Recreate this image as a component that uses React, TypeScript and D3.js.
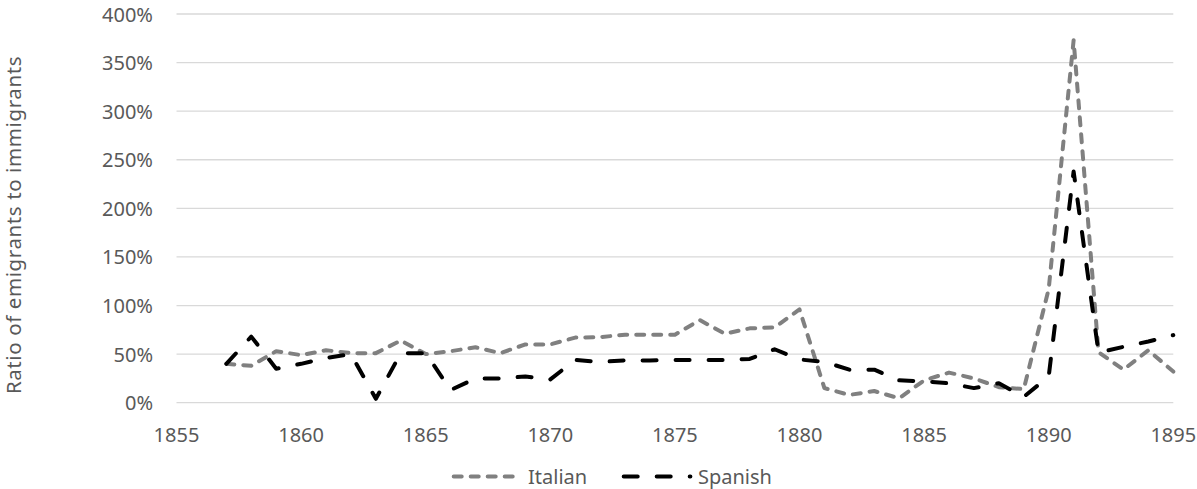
import React from 'react';
import * as d3 from 'd3';

const years = [
  1857, 1858, 1859, 1860, 1861, 1862, 1863, 1864, 1865, 1866, 1867, 1868, 1869,
  1870, 1871, 1872, 1873, 1874, 1875, 1876, 1877, 1878, 1879, 1880, 1881, 1882,
  1883, 1884, 1885, 1886, 1887, 1888, 1889, 1890, 1891, 1892, 1893, 1894, 1895,
];
// ratio of emigrants to immigrants, in percent
const italian = [
  40, 38, 53, 49, 54, 51, 51, 64, 50, 53, 57, 51, 60,
  60, 67, 67.5, 70, 70, 70, 85, 71, 76.5, 77.5, 96, 15, 8,
  12, 4.5, 23, 31, 25, 16, 14, 117, 373, 52, 34, 54, 32,
];
const spanish = [
  40, 68, 35, 40, 46, 50, 4, 51, 51, 13, 25, 25, 27,
  24, 44, 42, 43.5, 43.5, 44, 44, 44, 45, 55, 44.5, 42, 34,
  34, 23, 22, 20, 15, 20, 6, 27, 238, 51.5, 57.5, 63, 69.5,
];
const yTicks = [0, 50, 100, 150, 200, 250, 300, 350, 400];
const xTicks = [1855, 1860, 1865, 1870, 1875, 1880, 1885, 1890, 1895];

const W = 1197;
const H = 489;
const FONT = "'Noto Sans', sans-serif";
const TEXT = '#595959';

const series = [
  { name: 'Italian', values: italian, color: '#808080', dash: '8 9' },
  { name: 'Spanish', values: spanish, color: '#000000', dash: '14 19' },
];

export default function App() {
  const x = d3.scaleLinear().domain([1855, 1895]).range([176.5, 1173.3]);
  const y = d3.scaleLinear().domain([0, 400]).range([402.7, 14]);

  const line = d3
    .line<number>()
    .x((_, i) => x(years[i]))
    .y((d) => y(d));

  return (
    <svg
      width={W}
      height={H}
      style={{ position: 'absolute', left: 0, top: 0, background: '#fff' }}
      fontFamily={FONT}
    >
      {/* grid */}
      {yTicks.map((t) => (
        <line
          key={t}
          x1={x(1855)}
          x2={x(1895)}
          y1={y(t)}
          y2={y(t)}
          stroke="#d9d9d9"
          strokeWidth={1.3}
        />
      ))}
      {yTicks.map((t) => (
        <text
          key={t}
          x={153}
          y={y(t)}
          textAnchor="end"
          dominantBaseline="central"
          fontSize={20}
          fill={TEXT}
        >
          {t + '%'}
        </text>
      ))}
      {xTicks.map((t) => (
        <text
          key={t}
          x={x(t)}
          y={434}
          textAnchor="middle"
          dominantBaseline="central"
          fontSize={20}
          fill={TEXT}
        >
          {t}
        </text>
      ))}
      <text
        transform={`translate(13,225) rotate(-90)`}
        textAnchor="middle"
        dominantBaseline="central"
        fontSize={20.5}
        letterSpacing={0.6}
        fill={TEXT}
      >
        Ratio of emigrants to immigrants
      </text>

      {series.map((s) => (
        <path
          key={s.name}
          d={line(s.values) || ''}
          fill="none"
          stroke={s.color}
          strokeWidth={4}
          strokeDasharray={s.dash}
          strokeLinecap="round"
          strokeLinejoin="round"
        />
      ))}

      {/* legend */}
      <g>
        <line x1={453.7} x2={517.3} y1={476.5} y2={476.5} stroke="#808080"
          strokeWidth={4} strokeDasharray="8 9" strokeLinecap="round" />
        <text x={528} y={476.5} dominantBaseline="central" fontSize={20} fill={TEXT}>
          Italian
        </text>
        <line x1={623.7} x2={690.4} y1={476.5} y2={476.5} stroke="#000"
          strokeWidth={4} strokeDasharray="14 19" strokeLinecap="round" />
        <text x={698} y={476.5} dominantBaseline="central" fontSize={20} fill={TEXT}>
          Spanish
        </text>
      </g>
    </svg>
  );
}
